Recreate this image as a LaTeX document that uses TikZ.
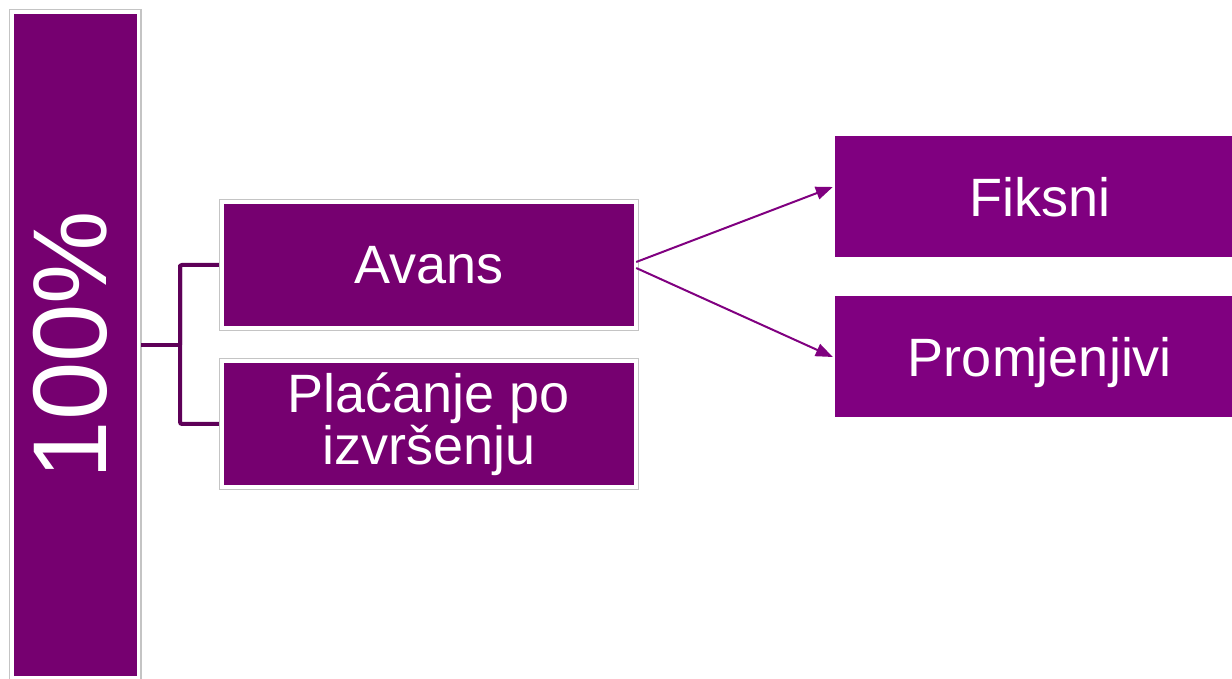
\documentclass[tikz,border=0pt]{standalone}
\usepackage{fontspec}
\setmainfont{Liberation Sans}
\usetikzlibrary{arrows.meta}
\definecolor{barpurple}{HTML}{760070}
\definecolor{boxpurple}{HTML}{800080}
\definecolor{brackcol}{HTML}{5E0058}
\definecolor{framegrey}{HTML}{C4C4C4}
\tikzset{
  darkbox/.style={fill=barpurple, draw=none, inner sep=0pt, text=white, align=center},
  lightbox/.style={fill=boxpurple, draw=none, inner sep=0pt, text=white, align=center},
  boxframe/.style={draw=framegrey, line width=1.2pt},
  bracket/.style={draw=brackcol, line width=4pt, rounded corners=2pt},
  arr/.style={draw=boxpurple, line width=2pt, -{Triangle[length=17pt,width=13pt]}},
  bigtxt/.style={font=\fontsize{54}{50}\selectfont},
}
\begin{document}
\begin{tikzpicture}[x=1pt,y=1pt]
\useasboundingbox (0,0) rectangle (1232,678);
% left bar
\node[darkbox, rotate=90, minimum width=662pt, minimum height=123pt,
      font=\fontsize{105}{105}\selectfont, text depth=12pt] (bar) at (75.5,333) {100\%};
\draw[boxframe] (9.5,-5) rectangle (141,668.5);
% middle boxes
\node[darkbox, bigtxt, minimum width=410pt, minimum height=122pt, text depth=0pt] (avans) at (429,413) {Avans};
\draw[boxframe] ([shift={(-4.5,-4.5)}]avans.south west) rectangle ([shift={(4.5,4.5)}]avans.north east);
\node[darkbox, bigtxt, minimum width=410pt, minimum height=122pt] (plac) at (429,254) {Plaćanje po\\izvršenju};
\draw[boxframe] ([shift={(-4.5,-4.5)}]plac.south west) rectangle ([shift={(4.5,4.5)}]plac.north east);
% right boxes
\node[lightbox, bigtxt, minimum width=410pt, minimum height=121pt, text depth=0pt] (fiksni) at (1040,481.5) {Fiksni};
\node[lightbox, bigtxt, minimum width=410pt, minimum height=121pt, text depth=0pt] (prom) at (1040,321.5) {Promjenjivi};
% bracket
\coordinate (jn) at (180,333);
\draw[bracket] (141,333) -- (jn);
\draw[bracket] (avans.west -| jn) |- ([xshift=-5pt]plac.west);
\draw[bracket] (jn) |- ([xshift=-5pt]avans.west);
% arrows
\draw[arr] ([shift={(2,3)}]avans.east) -- ([shift={(-2,9.5)}]fiksni.west);
\draw[arr] ([shift={(2,-3)}]avans.east) -- ([shift={(-2,-0.5)}]prom.west);
\end{tikzpicture}
\end{document}
